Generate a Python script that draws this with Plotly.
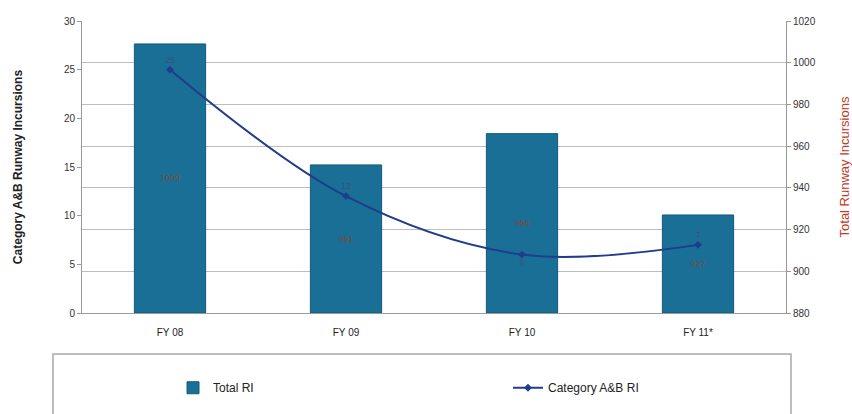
import plotly.graph_objects as go

categories = ["FY 08", "FY 09", "FY 10", "FY 11*"]
total_ri = [1009, 951, 966, 927]
cat_ab_ri = [25, 12, 6, 7]
label_pos = ["top center", "top center", "bottom center", "top center"]

left_ticks = [0, 5, 10, 15, 20, 25, 30]
right_ticks = [880, 900, 920, 940, 960, 980, 1000, 1020]

base_val = 880

fig = go.Figure()

fig.add_trace(go.Bar(
    x=categories,
    y=[v - base_val for v in total_ri],
    base=[base_val] * len(total_ri),
    text=[str(v) for v in total_ri],
    textposition="inside",
    insidetextanchor="middle",
    textfont=dict(size=9, color="#7a4a40", family="Liberation Sans"),
    marker=dict(color="#1a6f96", line=dict(color="#125a7c", width=1)),
    width=0.405,
    name="Total RI",
    yaxis="y",
))

fig.add_trace(go.Scatter(
    x=categories,
    y=cat_ab_ri,
    mode="lines+markers+text",
    text=[str(v) for v in cat_ab_ri],
    textposition=label_pos,
    textfont=dict(size=9, color="#3a4f80", family="Liberation Sans"),
    line=dict(color="#1f3d8a", width=2, shape="spline", smoothing=1.0),
    marker=dict(symbol="diamond", size=6, color="#1f3d8a"),
    name="Category A&B RI",
    yaxis="y2",
    cliponaxis=False,
))

fig.update_layout(
    width=852, height=414,
    margin=dict(l=82, r=66, t=21, b=101, autoexpand=False),
    paper_bgcolor="white",
    plot_bgcolor="white",
    font=dict(family="Liberation Sans, Arial, sans-serif", size=11, color="#333"),
    xaxis=dict(
        showline=True, linecolor="#999", linewidth=1,
        ticks="", tickfont=dict(size=10, color="#222"),
        ticklabelstandoff=10,
        showgrid=False,
    ),
    yaxis=dict(
        side="right", range=[880, 1020], tickvals=right_ticks,
        showline=True, linecolor="#999", linewidth=1,
        ticks="outside", ticklen=4, tickcolor="#999",
        showgrid=True, gridcolor="#bdbdbd", gridwidth=1,
        tickfont=dict(size=10, color="#333"),
        title=dict(text="Total Runway Incursions", font=dict(size=13, color="#c0392b"), standoff=26),
        zeroline=False,
    ),
    yaxis2=dict(
        side="left", overlaying="y", range=[0, 30], tickvals=left_ticks,
        showline=True, linecolor="#999", linewidth=1,
        ticks="outside", ticklen=4, tickcolor="#999",
        showgrid=False,
        tickfont=dict(size=10, color="#333"),
        title=dict(text="<b>Category A&B Runway Incursions</b>", font=dict(size=12, color="#222"), standoff=38),
        zeroline=False,
    ),
    legend=dict(
        orientation="h",
        x=(843 - 82) / 704, y=-0.256, xanchor="right", yanchor="middle",
        entrywidth=290, entrywidthmode="pixels",
        font=dict(size=12, color="#222"),
        bgcolor="rgba(0,0,0,0)",
        traceorder="normal",
    ),
    showlegend=True,
    shapes=[dict(
        type="rect", xref="paper", yref="paper",
        x0=(53 - 82) / 704, x1=(791 - 82) / 704,
        y0=(313 - 354) / 292, y1=(313 - 430) / 292,
        line=dict(color="#a8a8a8", width=1.5),
        fillcolor="rgba(0,0,0,0)",
        layer="below",
    )],
)

fig.write_html("out.html")
